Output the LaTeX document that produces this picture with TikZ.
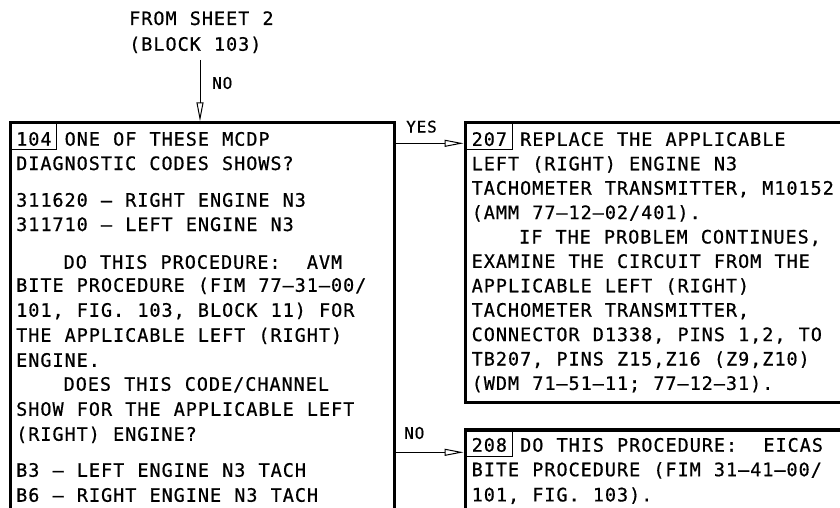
\documentclass[tikz,border=0pt]{standalone}
\usepackage{fontspec}
\usetikzlibrary{arrows.meta}
\newfontfamily\flowmono[LetterSpace=5.2,WordSpace={1.086,0,0},FakeBold=0.6]{DejaVu Sans Mono}
\tikzset{
  txt/.style={anchor=base west, inner sep=0pt, font=\flowmono\fontsize{18.5}{24}\selectfont},
  lbl/.style={anchor=base west, inner sep=0pt, font=\flowmono\fontsize{16}{20}\selectfont},
  bigbox/.style={draw, line width=3.2pt, anchor=north west, inner sep=0pt},
  numbox/.style={draw, line width=0.9pt, anchor=north west, inner sep=0pt},
  arr/.style={line width=1pt, -{Triangle[open, length=19pt, width=7pt]}},
}
\newcommand{\ind}{\phantom{DDDD}}
\begin{document}
\begin{tikzpicture}[x=1pt,y=-1pt]
\fill[white] (0,0) rectangle (840,508);
\path[use as bounding box] (0,0) rectangle (840,508);
\clip (0,0) rectangle (840,508);
% boxes
\node[bigbox, minimum width=384pt, minimum height=450pt] (b104) at (8.5,121.3) {};
\node[bigbox, minimum width=450pt, minimum height=279.5pt] (b207) at (463.5,121.3) {};
\node[bigbox, minimum width=450pt, minimum height=150pt] (b208) at (463.5,428.3) {};
\node[numbox, minimum width=47.5pt, minimum height=27.5pt] (n104) at (8.5,121.3) {};
\node[numbox, minimum width=48pt, minimum height=27.5pt] (n207) at (463.5,121.3) {};
\node[numbox, minimum width=48pt, minimum height=27.5pt] (n208) at (463.5,428.3) {};
% source text
\node[txt] (src1) at (129,25) {FROM SHEET 2};
\node[txt] (src2) at (129,50.75) {(BLOCK 103)};
% connectors
\coordinate (src) at (200,60);
\draw[arr] (src) -- (src |- b104.north);
\node[lbl] (lno1) at (212,88.8) {NO};
\coordinate (yesy) at (0,143.3);
\draw[arr] (b104.east |- yesy) -- (b207.west |- yesy);
\node[lbl] (lyes) at (406,132.5) {YES};
\coordinate (noy) at (0,452.3);
\draw[arr] (b104.east |- noy) -- (b208.west |- noy);
\node[lbl] (lno2) at (404,438.8) {NO};
% block 104
\node[txt] (a1) at (16,145.7) {104 ONE OF THESE MCDP};
\node[txt] (a2) at (16,170) {DIAGNOSTIC CODES SHOWS?};
\node[txt] (a3) at (16,206.7) {311620 – RIGHT ENGINE N3};
\node[txt] (a4) at (16,231) {311710 – LEFT ENGINE N3};
\node[txt] (a5) at (16,268.75) {\ind DO THIS PROCEDURE:~ AVM};
\node[txt] (a6) at (16,291.75) {BITE PROCEDURE (FIM 77–31–00/};
\node[txt] (a7) at (16,316.75) {101, FIG. 103, BLOCK 11) FOR};
\node[txt] (a8) at (16,341.75) {THE APPLICABLE LEFT (RIGHT)};
\node[txt] (a9) at (16,366.75) {ENGINE.};
\node[txt] (a10) at (16,390.75) {\ind DOES THIS CODE/CHANNEL};
\node[txt] (a11) at (16,415.75) {SHOW FOR THE APPLICABLE LEFT};
\node[txt] (a12) at (16,440.75) {(RIGHT) ENGINE?};
\node[txt] (a13) at (16,476.75) {B3 – LEFT ENGINE N3 TACH};
\node[txt] (a14) at (16,501.75) {B6 – RIGHT ENGINE N3 TACH};
% block 207
\node[txt] (r1) at (471.5,145.9) {207 REPLACE THE APPLICABLE};
\node[txt] (r2) at (471.5,170.3) {LEFT (RIGHT) ENGINE N3};
\node[txt] (r3) at (471.5,194.7) {TACHOMETER TRANSMITTER, M10152};
\node[txt] (r4) at (471.5,219.1) {(AMM 77–12–02/401).};
\node[txt] (r5) at (471.5,243.5) {\ind IF THE PROBLEM CONTINUES,};
\node[txt] (r6) at (471.5,267.9) {EXAMINE THE CIRCUIT FROM THE};
\node[txt] (r7) at (471.5,292.3) {APPLICABLE LEFT (RIGHT)};
\node[txt] (r8) at (471.5,316.7) {TACHOMETER TRANSMITTER,};
\node[txt] (r9) at (471.5,341.1) {CONNECTOR D1338, PINS 1,2, TO};
\node[txt] (r10) at (471.5,365.5) {TB207, PINS Z15,Z16 (Z9,Z10)};
\node[txt] (r11) at (471.5,389.9) {(WDM 71–51–11; 77–12–31).};
% block 208
\node[txt] (s1) at (471.5,451.7) {208 DO THIS PROCEDURE:~ EICAS};
\node[txt] (s2) at (471.5,476.2) {BITE PROCEDURE (FIM 31–41–00/};
\node[txt] (s3) at (471.5,501.4) {101, FIG. 103).};
\end{tikzpicture}
\end{document}
